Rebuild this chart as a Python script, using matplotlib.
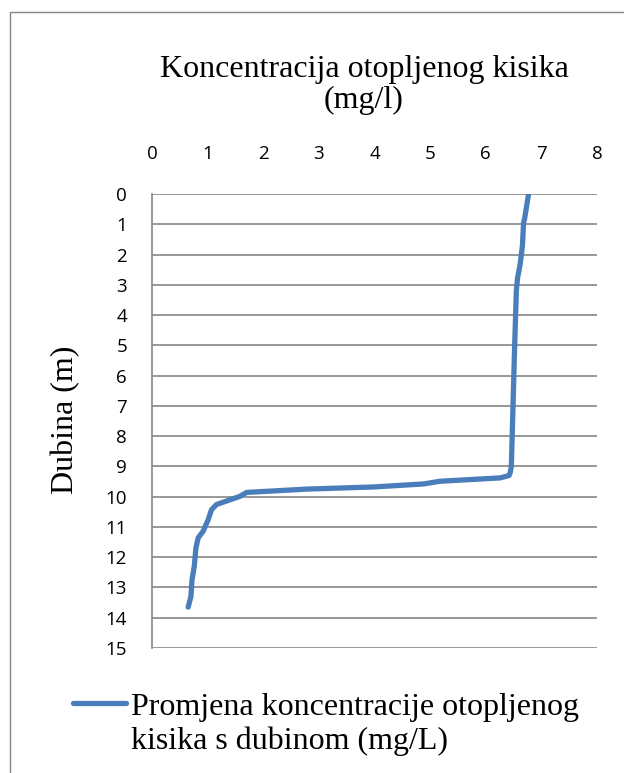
import matplotlib
matplotlib.use("Agg")
import matplotlib.pyplot as plt
from matplotlib.patches import Rectangle
from matplotlib.lines import Line2D

# Data: dissolved oxygen (mg/L) vs depth (m)
oxygen = [6.77, 6.70, 6.68, 6.66, 6.62, 6.57, 6.55, 6.52, 6.49, 6.46, 6.44, 6.42, 6.26,
          5.18, 4.88, 3.98, 2.78, 1.70, 1.58, 1.16, 1.07, 1.01, 0.92, 0.83, 0.79,
          0.76, 0.72, 0.70, 0.65]
depth = [0.0, 0.8, 0.95, 1.7, 2.3, 2.8, 3.2, 5.0, 7.0, 9.0, 9.2, 9.3, 9.38,
         9.49, 9.58, 9.68, 9.75, 9.86, 9.99, 10.26, 10.43, 10.76, 11.14, 11.36, 11.69,
         12.3, 12.74, 13.3, 13.65]

x_ticks = list(range(0, 9))
y_ticks = list(range(0, 16))
title = "Koncentracija otopljenog kisika\n(mg/l)"
ylabel = "Dubina (m)"
series_label = "Promjena koncentracije otopljenog\nkisika s dubinom (mg/L)"

W, H = 624, 773
fig = plt.figure(figsize=(W / 100, H / 100), dpi=100)
fig.patch.set_facecolor("white")

# outer chart frame
fig.add_artist(Rectangle((10 / W, -0.1), 1.2, 1 - 12 / H + 0.1, transform=fig.transFigure,
                         fill=False, edgecolor="#868686", linewidth=1.0))

ax = fig.add_axes([152 / W, 125 / H, 445 / W, 454 / H])
line_color = "#4a7ebb"
ax.plot(oxygen, depth, color=line_color, linewidth=3.8, solid_capstyle="round",
        solid_joinstyle="round")

ax.set_xlim(0, 8)
ax.set_ylim(15, 0)
ax.set_xticks(x_ticks)
ax.set_yticks(y_ticks)
ax.xaxis.tick_top()
ax.tick_params(axis="both", length=0, labelsize=13.5, colors="black")
ax.tick_params(axis="x", pad=22)
ax.tick_params(axis="y", pad=18)
for lab in ax.get_xticklabels() + ax.get_yticklabels():
    lab.set_fontfamily("Open Sans")

ax.yaxis.grid(True, color="#868686", linewidth=1.2)
ax.xaxis.grid(False)
ax.set_axisbelow(True)
for s in ["top", "right", "bottom"]:
    ax.spines[s].set_visible(False)
ax.spines["left"].set_color("#868686")
ax.spines["left"].set_linewidth(1.2)

fig.text(364 / W, 1 - 85 / H, title, ha="center", va="center", fontsize=23,
         family="Liberation Serif", linespacing=1.12)
fig.text(66 / W, 1 - 420 / H, ylabel, ha="center", va="center", rotation=90,
         fontsize=23, family="Liberation Serif")

# legend
fig.add_artist(Line2D([73 / W, 126 / W], [1 - 703 / H, 1 - 703 / H], transform=fig.transFigure,
                      color=line_color, linewidth=3.8, solid_capstyle="round"))
fig.text(131 / W, 1 - 724 / H, series_label, ha="left", va="center", fontsize=23,
         family="Liberation Serif", linespacing=1.2)

fig.savefig("out.png", dpi=100)
